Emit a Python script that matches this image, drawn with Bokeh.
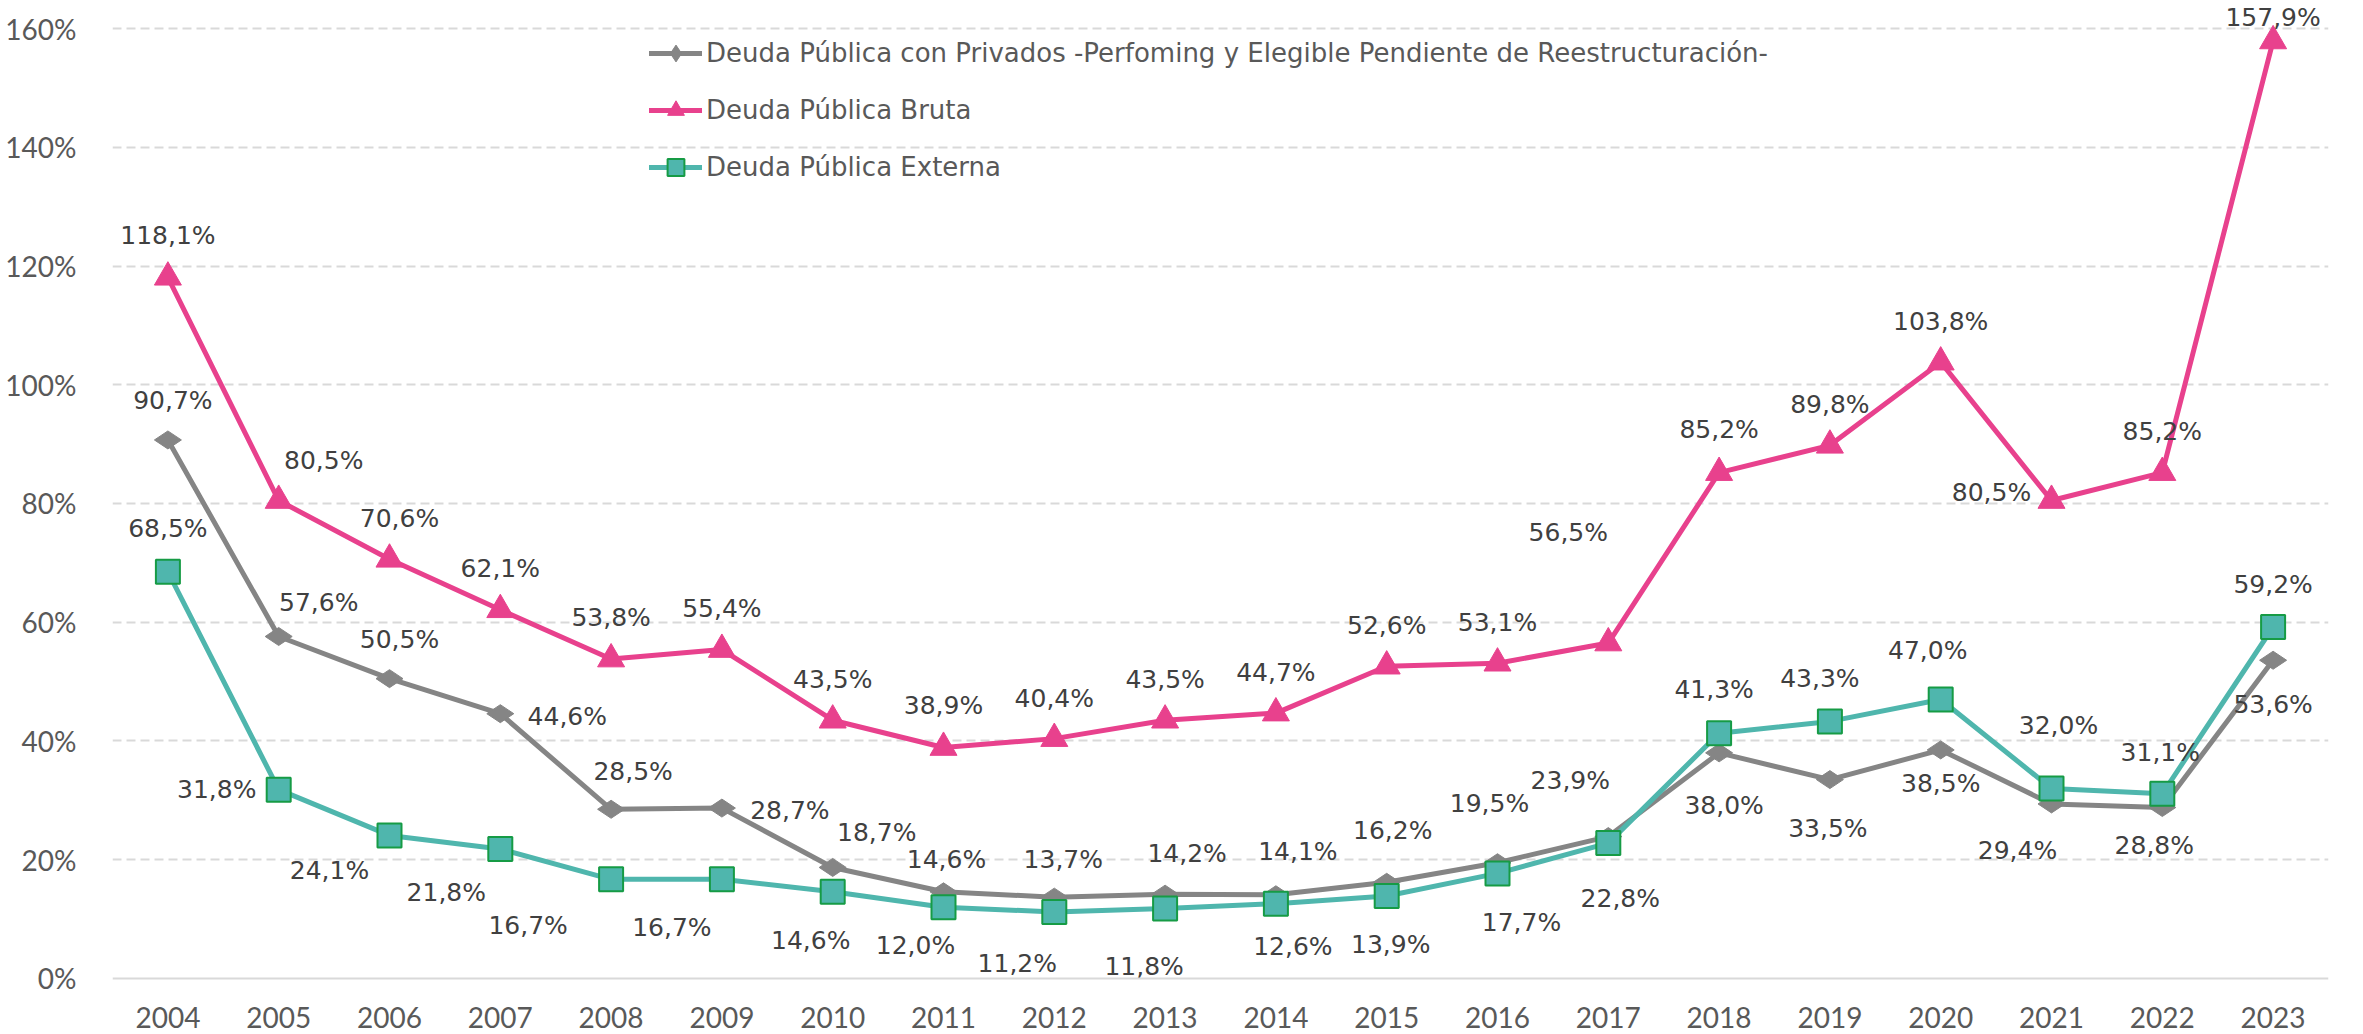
import math
from bokeh.plotting import figure
from bokeh.models import ColumnDataSource, FactorRange, Range1d, FixedTicker, Legend, LegendItem, Span
from bokeh.embed import file_html
from bokeh.resources import INLINE
from bokeh.core.properties import value

# ---------------- data ----------------
years = [str(y) for y in range(2004, 2024)]

privados = [90.7, 57.6, 50.5, 44.6, 28.5, 28.7, 18.7, 14.6, 13.7, 14.2,
            14.1, 16.2, 19.5, 23.9, 38.0, 33.5, 38.5, 29.4, 28.8, 53.6]
bruta = [118.1, 80.5, 70.6, 62.1, 53.8, 55.4, 43.5, 38.9, 40.4, 43.5,
         44.7, 52.6, 53.1, 56.5, 85.2, 89.8, 103.8, 80.5, 85.2, 157.9]
externa = [68.5, 31.8, 24.1, 21.8, 16.7, 16.7, 14.6, 12.0, 11.2, 11.8,
           12.6, 13.9, 17.7, 22.8, 41.3, 43.3, 47.0, 32.0, 31.1, 59.2]

series_names = [
    "Deuda Pública con Privados -Perfoming y Elegible Pendiente de Reestructuración-",
    "Deuda Pública Bruta",
    "Deuda Pública Externa",
]

y_ticks = [0, 20, 40, 60, 80, 100, 120, 140, 160]
y_tick_labels = ["0%", "20%", "40%", "60%", "80%", "100%", "120%", "140%", "160%"]
x_baseline = [0] * len(years)

# ---------------- label placement (screen px, +down) ----------------
privados_dx = [5, 40, 10, 67, 22, 68, 44, 3, 9, 22, 22, 6, -8, -38, 5, -2, 0, -34, -8, 0]
privados_dy = [-39, -34, -39, 3, -38, 2, -35, -32, -38, -41, -43, -52, -59, -56, 53, 49, 34, 47, 38, 44]
bruta_dx = [0, 45, 10, 0, 0, 0, 0, 0, 0, 0, 0, 0, 0, -40, 0, 0, 0, -60, 0, 0]
bruta_dy = [-42, -40, -41, -41, -42, -41, -41, -42, -40, -41, -41, -41, -41, -111, -43, -41, -41, -8, -41, -23]
externa_dx = [0, -62, -60, -54, -83, -50, -22, -28, -37, -21, 17, 4, 24, 12, -5, -10, -13, 7, -2, 0]
externa_dy = [-43, 0, 35, 43, 46, 48, 49, 38, 52, 58, 43, 49, 49, 55, -44, -43, -49, -63, -41, -42]


def fmt(v):
    return f"{v:.1f}".replace(".", ",") + "%"


GRAY = "#858585"
PINK = "#E8418D"
TEAL = "#4FB6AD"
SQ_EDGE = "#169B45"
LABEL = "#404040"
TICK = "#595959"
GRID = "#D9D9D9"

# frame fills the page height: 0% sits 56px above its bottom, 160% 28px below its top
p = figure(
    width=2363, height=1034,
    x_range=FactorRange(*years, range_padding=0),
    y_range=Range1d(-9.432, 164.716),
    output_backend="svg", toolbar_location=None,
    min_border_left=112, min_border_right=35, min_border_top=0, min_border_bottom=0,
)
p.outline_line_color = None
p.background_fill_color = "white"
p.border_fill_color = "white"
p.xgrid.grid_line_color = None
p.ygrid.ticker = FixedTicker(ticks=y_ticks[1:])
p.ygrid.grid_line_color = GRID
p.ygrid.grid_line_width = 2
p.ygrid.grid_line_dash = "9 5"
p.add_layout(Span(location=y_ticks[0], dimension="width", line_color=GRID, line_width=2))

p.yaxis.ticker = FixedTicker(ticks=y_ticks)
p.yaxis.major_label_overrides = {t: l for t, l in zip(y_ticks, y_tick_labels)}
p.yaxis.axis_line_color = None
p.yaxis.major_tick_line_color = None
p.yaxis.minor_tick_line_color = None
p.yaxis.major_label_standoff = 30
p.yaxis.major_label_text_font = "Lato"
p.yaxis.major_label_text_font_size = "28px"
p.yaxis.major_label_text_color = TICK
p.xaxis.visible = False

# category labels under the 0% line
p.text(x=years, y=x_baseline, text=years, y_offset=39,
       text_font=value("Lato"), text_font_size="28px", text_color=TICK,
       text_align="center", text_baseline="middle")

# ---------------- series ----------------
src_g = ColumnDataSource(dict(x=years, y=privados, t=[fmt(v) for v in privados], dx=privados_dx, dy=privados_dy))
src_p = ColumnDataSource(dict(x=years, y=bruta, t=[fmt(v) for v in bruta], dx=bruta_dx, dy=bruta_dy))
src_t = ColumnDataSource(dict(x=years, y=externa, t=[fmt(v) for v in externa], dx=externa_dx, dy=externa_dy))

lg = p.line("x", "y", source=src_g, line_color=GRAY, line_width=5, line_join="round", line_cap="round")
sg = p.scatter("x", "y", source=src_g, marker="diamond", size=27, angle=math.pi / 2,
               fill_color=GRAY, line_color=GRAY, line_width=1)
lp = p.line("x", "y", source=src_p, line_color=PINK, line_width=5, line_join="round", line_cap="round")
sp = p.scatter("x", "y", source=src_p, marker="triangle", size=27,
               fill_color=PINK, line_color=PINK, line_width=1)
lt = p.line("x", "y", source=src_t, line_color=TEAL, line_width=5, line_join="round", line_cap="round")
st = p.scatter("x", "y", source=src_t, marker="square", size=24,
               fill_color=TEAL, line_color=SQ_EDGE, line_width=2)

for src in (src_g, src_p, src_t):
    p.text("x", "y", text="t", source=src, x_offset="dx", y_offset="dy",
           text_font=value("DejaVu Sans"), text_font_size="25px", text_color=LABEL,
           text_align="center", text_baseline="middle")

legend = Legend(
    items=[LegendItem(label=series_names[0], renderers=[lg, sg]),
           LegendItem(label=series_names[1], renderers=[lp, sp]),
           LegendItem(label=series_names[2], renderers=[lt, st])],
    location=(537, 846), orientation="vertical",
    glyph_width=53, glyph_height=42, spacing=15, label_standoff=4,
    padding=0, margin=0, border_line_color=None, background_fill_alpha=0,
    label_text_font="DejaVu Sans", label_text_font_size="26px", label_text_color=TICK,
)
p.add_layout(legend)

open("out.html", "w").write(file_html(p, INLINE))
